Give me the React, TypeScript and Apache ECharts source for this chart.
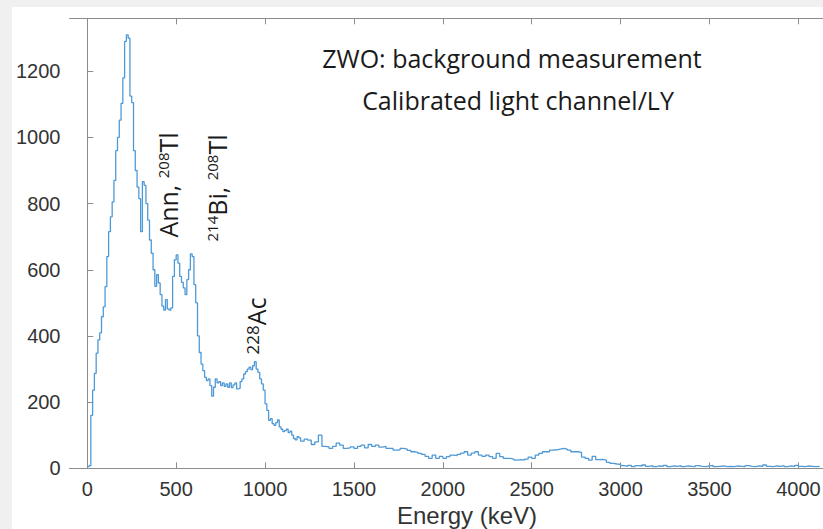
import React, { useEffect, useRef } from "react";
import * as echarts from "echarts";

// Histogram: 10 keV bins from 0 to 1200 keV
const lowBinStart = 0;
const lowBinWidth = 10;
const lowCounts = [
  5, 8, 160, 236, 287, 348, 388, 409, 458, 488,
  549, 640, 715, 760, 805, 870, 960, 1000, 1052, 1103,
  1180, 1290, 1310, 1300, 1125, 1105, 960, 900, 850, 815,
  715, 866, 855, 800, 750, 690, 650, 600, 550, 585,
  560, 525, 490, 478, 510, 482, 478, 485, 580, 630,
  645, 620, 580, 562, 545, 525, 570, 600, 648, 640,
  555, 500, 400, 350, 315, 295, 275, 265, 270, 250,
  218, 245, 270, 258, 262, 250, 258, 248, 255, 245,
  258, 244, 252, 258, 240, 242, 262, 270, 285, 292,
  300, 306, 298, 310, 322, 300, 290, 270, 255, 236,
  195, 175, 145, 150, 135, 130, 138, 146, 125, 118,
  111, 114, 118, 108, 112, 100, 90, 86, 96, 92,
];
// Histogram: 20 keV bins from 1200 keV on
const highBinStart = 1200;
const highBinWidth = 20;
const highCounts = [
  82, 88, 85, 72, 80, 100, 66, 65, 60, 66,
  76, 70, 60, 62, 65, 60, 66, 70, 62, 72,
  66, 70, 64, 66, 60, 60, 55, 56, 60, 58,
  54, 50, 48, 45, 42, 36, 30, 40, 30, 36,
  30, 35, 40, 38, 42, 46, 50, 40, 46, 50,
  40, 36, 40, 35, 30, 45, 35, 30, 30, 28,
  25, 26, 25, 28, 34, 30, 40, 45, 50, 50,
  55, 56, 58, 60, 58, 55, 50, 50, 48, 34,
  30, 25, 36, 26, 27, 25, 18, 15, 13, 12,
  8, 6, 9, 5, 8, 7, 10, 6, 8, 5,
  7, 6, 9, 5, 7, 6, 8, 5, 7, 6,
  5, 8, 6, 5, 7, 9, 5, 6, 7, 5,
  6, 5, 7, 6, 5, 8, 6, 5, 7, 6,
  10, 6, 5, 7, 6, 8, 5, 7, 6, 9,
  6, 5, 7, 6, 5, 6,
];

const xTicks = [0, 500, 1000, 1500, 2000, 2500, 3000, 3500, 4000];
const yTicks = [0, 200, 400, 600, 800, 1000, 1200];

const titleLine1 = "ZWO: background measurement";
const titleLine2 = "Calibrated light channel/LY";
const xAxisName = "Energy (keV)";

export default function App() {
  const ref = useRef<HTMLDivElement>(null);
  useEffect(() => {
    if (!ref.current) return;
    const chart = echarts.init(ref.current, undefined, { renderer: "svg" });
    const pts: number[][] = [];
    lowCounts.forEach((c, i) => pts.push([lowBinStart + i * lowBinWidth, c]));
    highCounts.forEach((c, i) => pts.push([highBinStart + i * highBinWidth, c]));
    pts.push([highBinStart + highCounts.length * highBinWidth, highCounts[highCounts.length - 1]]);

    const axisColor = "#8c8c8c";
    const labelColor = "#333333";
    const tickFont = "Liberation Sans";
    const annFont = "Open Sans";
    const plain = (v: number) => String(v);

    chart.setOption({
      animation: false,
      backgroundColor: "#ffffff",
      grid: {
        left: 69.5,
        top: 18.3,
        width: 800,
        height: 450,
        containLabel: false,
        outerBoundsMode: "none",
      },
      xAxis: [
        {
          type: "value",
          min: -100,
          max: 4400,
          position: "bottom",
          axisLine: { show: true, lineStyle: { color: axisColor, width: 1 } },
          axisTick: { show: true, inside: true, length: 6, customValues: xTicks, lineStyle: { color: axisColor } },
          axisLabel: { show: true, customValues: xTicks, formatter: plain, color: labelColor, fontFamily: tickFont, fontSize: 20, margin: 11 },
          splitLine: { show: false },
        },
        {
          type: "value",
          min: -100,
          max: 4400,
          position: "top",
          axisLine: { show: true, onZero: false, lineStyle: { color: axisColor, width: 1 } },
          axisTick: { show: true, inside: true, length: 6, customValues: xTicks, lineStyle: { color: axisColor } },
          axisLabel: { show: false },
          splitLine: { show: false },
        },
      ],
      yAxis: {
        type: "value",
        min: 0,
        max: 1360,
        axisLine: { show: true, lineStyle: { color: axisColor, width: 1 } },
        axisTick: { show: true, inside: true, length: 6, customValues: yTicks, lineStyle: { color: axisColor } },
        axisLabel: { show: true, customValues: yTicks, formatter: plain, color: labelColor, fontFamily: tickFont, fontSize: 20, margin: 9 },
        splitLine: { show: false },
      },
      series: [
        {
          type: "line",
          xAxisIndex: 0,
          data: pts,
          step: "end",
          showSymbol: false,
          symbol: "none",
          lineStyle: { color: "#4f9ad6", width: 1.3 },
          silent: true,
        },
      ],
      graphic: [
        { type: "rect", shape: { x: 0, y: 0, width: 12, height: 529 }, style: { fill: "#f0f0f0" }, z: 100 },
        { type: "rect", shape: { x: 0, y: 0, width: 823, height: 7 }, style: { fill: "#f0f0f0" }, z: 100 },
        {
          type: "text", x: 512, y: 58, z: 100,
          style: { text: titleLine1, font: `25px "${annFont}"`, fill: "#1a1a1a", textAlign: "center", textVerticalAlign: "middle" },
        },
        {
          type: "text", x: 518, y: 100, z: 100,
          style: { text: titleLine2, font: `25px "${annFont}"`, fill: "#1a1a1a", textAlign: "center", textVerticalAlign: "middle" },
        },
        {
          type: "text", x: 467, y: 515, z: 100,
          style: { text: xAxisName, font: `24px "${tickFont}"`, fill: labelColor, textAlign: "center", textVerticalAlign: "middle" },
        },
        {
          type: "text", x: 168, y: 185, rotation: Math.PI / 2, z: 100,
          style: {
            text: "{a|Ann, }{b|208}{a|Tl}",
            textAlign: "center", textVerticalAlign: "middle", fill: "#1a1a1a",
            rich: {
              a: { font: `25px "${annFont}"`, fill: "#1a1a1a", verticalAlign: "bottom" },
              b: { font: `15px "${annFont}"`, fill: "#1a1a1a", verticalAlign: "top" },
            },
          },
        },
        {
          type: "text", x: 217, y: 188, rotation: Math.PI / 2, z: 100,
          style: {
            text: "{b|214}{a|Bi, }{b|208}{a|Tl}",
            textAlign: "center", textVerticalAlign: "middle", fill: "#1a1a1a",
            rich: {
              a: { font: `25px "${annFont}"`, fill: "#1a1a1a", verticalAlign: "bottom" },
              b: { font: `15px "${annFont}"`, fill: "#1a1a1a", verticalAlign: "top" },
            },
          },
        },
        {
          type: "text", x: 256, y: 326, rotation: Math.PI / 2, z: 100,
          style: {
            text: "{b|228}{a|Ac}",
            textAlign: "center", textVerticalAlign: "middle", fill: "#1a1a1a",
            rich: {
              a: { font: `25px "${annFont}"`, fill: "#1a1a1a", verticalAlign: "bottom" },
              b: { font: `17px "${annFont}"`, fill: "#1a1a1a", verticalAlign: "top" },
            },
          },
        },
      ],
    });
    return () => chart.dispose();
  }, []);
  return (
    <div
      ref={ref}
      style={{ position: "fixed", left: 0, top: 0, width: 823, height: 529, background: "#ffffff" }}
    />
  );
}
